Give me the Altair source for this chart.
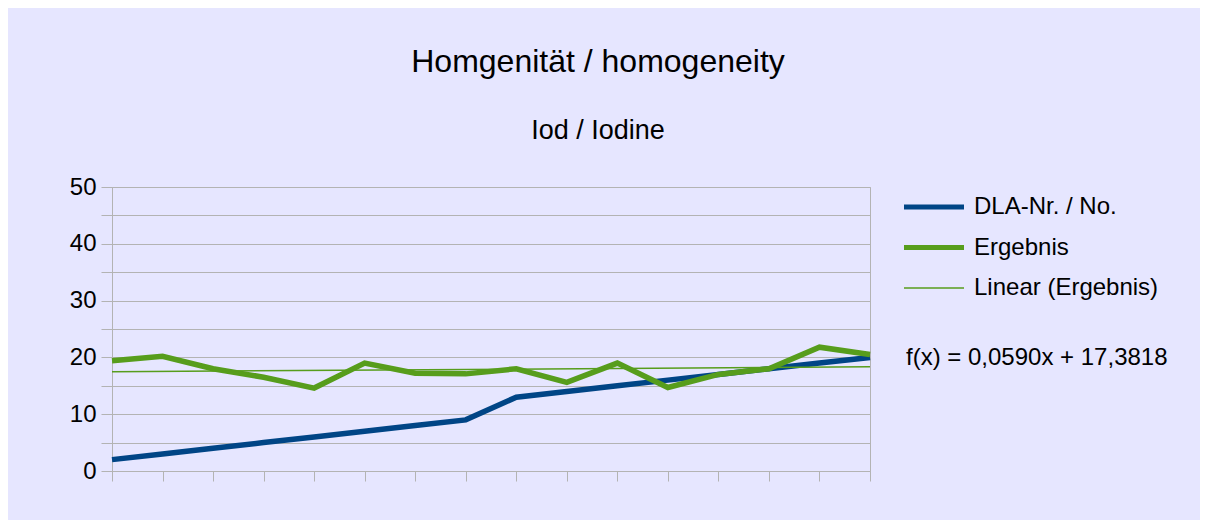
import altair as alt
import pandas as pd

# ---- data ----
positions = list(range(1, 17))
dla_nr = [2, 3, 4, 5, 6, 7, 8, 9, 13, 14, 15, 16, 17, 18, 19, 20]
ergebnis = [19.4, 20.2, 18.0, 16.5, 14.6, 19.0, 17.2, 17.1, 18.0, 15.6, 19.0, 14.7, 17.0, 18.0, 21.8, 20.5]
series_names = ["DLA-Nr. / No.", "Ergebnis", "Linear (Ergebnis)"]
series_colors = ["#004586", "#579D1C", "#579D1C"]
formula_text = ["f(x) = 0,0590x + 17,3818"]
y_ticks = [0, 5, 10, 15, 20, 25, 30, 35, 40, 45, 50]

df = pd.DataFrame({
    "x": positions * 2,
    "series": [series_names[0]] * 16 + [series_names[1]] * 16,
    "val": dla_nr + ergebnis,
})

FONT = "Liberation Sans"
GRID = "#b3b3b3"
BG = "#E6E6FF"

color_scale = alt.Scale(domain=series_names, range=series_colors)

x_enc = alt.X(
    "x:Q",
    scale=alt.Scale(domain=[1, 16], nice=False, zero=False),
    axis=alt.Axis(values=positions, labels=False, title=None, grid=False,
                  tickSize=10, tickColor=GRID, domainColor=GRID),
)
y_enc = alt.Y(
    "val:Q",
    scale=alt.Scale(domain=[0, 50], nice=False),
    axis=alt.Axis(values=y_ticks, title=None, grid=True, gridColor=GRID,
                  tickSize=11, tickColor=GRID, domainColor=GRID,
                  labelExpr="datum.value % 10 == 0 ? datum.label : ''",
                  labelFontSize=24, labelFont=FONT, labelColor="black",
                  labelPadding=5),
)

legend = alt.Legend(
    title=None, orient="none", legendX=810, legendY=8,
    symbolType="stroke", symbolSize=3600, labelFontSize=24, labelFont=FONT,
    labelColor="black", labelOffset=28, rowPadding=16.5, padding=0,
    labelLimit=400,
    symbolStrokeWidth={"expr": "datum.value == 'Linear (Ergebnis)' ? 1.5 : 5"},
)

color_enc = alt.Color("series:N", scale=color_scale, legend=legend)

base = alt.Chart(df)

blue = base.transform_filter(alt.datum.series == series_names[0]).mark_line(
    strokeWidth=5.5).encode(x=x_enc, y=y_enc, color=color_enc)
green = base.transform_filter(alt.datum.series == series_names[1]).mark_line(
    strokeWidth=5.5).encode(x=x_enc, y=y_enc, color=color_enc)
trend = (
    base.transform_filter(alt.datum.series == series_names[1])
    .transform_regression("x", "val", extent=[1, 16])
    .transform_calculate(series=f"'{series_names[2]}'")
    .mark_line(strokeWidth=1.5)
    .encode(x=x_enc, y=y_enc, color=color_enc)
)

formula = alt.Chart(pd.DataFrame({"t": formula_text})).mark_text(
    align="left", baseline="middle", font=FONT, fontSize=24, color="black"
).encode(text="t:N", x=alt.value(794), y=alt.value(171))

chart = (
    alt.layer(blue, green, trend, formula)
    .properties(
        width=758, height=284,
        autosize=alt.AutoSizeParams(type="none"),
        padding={"left": 104, "top": 179, "right": 330, "bottom": 49},
        background=BG,
        title=alt.TitleParams(
            text="Homgenität / homogeneity",
            subtitle="Iod / Iodine",
            anchor="middle", frame="group", dx=107, offset=30,
            font=FONT, fontSize=32, fontWeight="normal", color="black",
            subtitleFont=FONT, subtitleFontSize=27, subtitleColor="black",
            subtitlePadding=39,
        ),
    )
    .configure_view(stroke=GRID, fill=BG)
    .configure_axis(domainWidth=1, gridWidth=1, tickWidth=1)
)

chart.save("out.html", embed_options={"renderer": "svg", "actions": False})
